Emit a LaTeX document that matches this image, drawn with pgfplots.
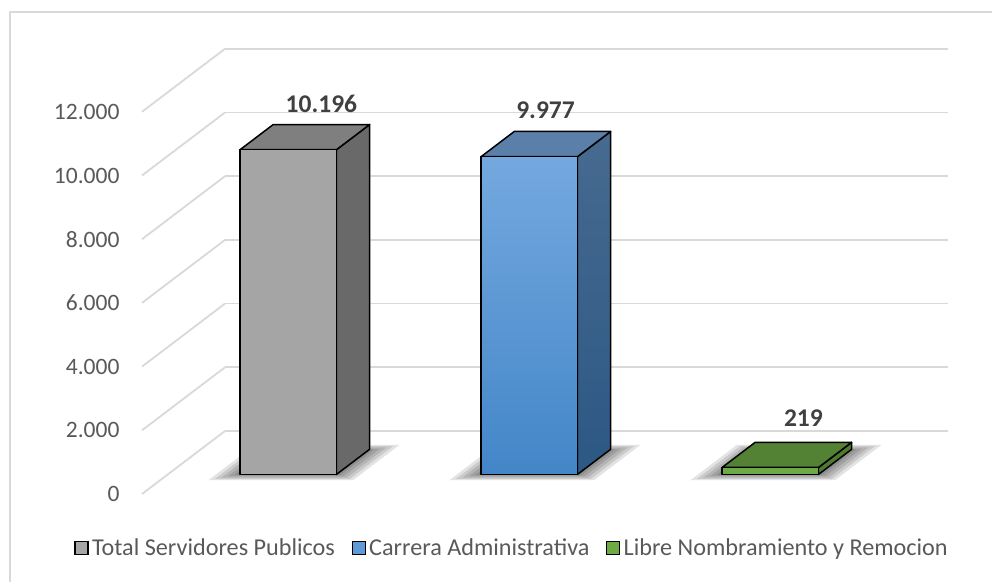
\documentclass[border=0pt]{standalone}
\usepackage{fontspec}
\setmainfont{Carlito}
\usepackage{pgfplots}
\pgfplotsset{compat=1.18}
\usetikzlibrary{calc}
\definecolor{txt}{HTML}{595959}
\definecolor{lbl}{HTML}{404040}
\definecolor{gridc}{HTML}{D9D9D9}
\definecolor{g1f}{HTML}{A5A5A5}
\definecolor{g1t}{HTML}{7F7F7F}
\definecolor{g1s}{HTML}{696969}
\definecolor{b1ft}{HTML}{74A8DF}
\definecolor{b1fb}{HTML}{4386C8}
\definecolor{b1t}{HTML}{5A7FA8}
\definecolor{b1st}{HTML}{476A90}
\definecolor{b1sb}{HTML}{2C5884}
\definecolor{v1f}{HTML}{6DAA45}
\definecolor{v1t}{HTML}{548235}
\definecolor{v1s}{HTML}{4E7A30}
\begin{document}
\begin{tikzpicture}
\begin{axis}[
  x={(241pt,0pt)}, y={(83pt,63pt)}, z={(0pt,0.03185pt)},
  xmin=0.5, xmax=3.5, ymin=0, ymax=1, zmin=0, zmax=12000,
  xtick=\empty, ytick=\empty,
  ztick={0,2000,4000,6000,8000,10000,12000},
  scaled z ticks=false,
  zmajorgrids,
  grid style={draw=gridc, line width=1.8pt},
  axis line style={draw=none},
  major tick length=0pt,
  clip=false,
  /pgf/number format/1000 sep={.},
  /pgf/number format/assume math mode=true,
  zticklabel style={font=\fontsize{23.5}{28}\selectfont, text=txt, anchor=east, xshift=-19pt},
  legend style={draw=none, fill=none, at={(0.46,-0.121)}, anchor=center,
    font=\fontsize{24.2}{29}\selectfont, text=txt,
    legend columns=3,
    nodes={inner xsep=3.5pt},
    /tikz/every even column/.append style={column sep=13pt}},
  legend image code/.code={\draw[#1, draw=black, line width=1.2pt] (0pt,-6.5pt) rectangle (13pt,6.5pt);},
  bars/.style={draw=black, line width=1.5pt, line join=round},
  shad/.style={fill=black, draw=none, opacity=0.11},
]
\coordinate (O) at (axis cs:0.5,0,0);
% legend images
\addlegendimage{fill=g1f}
\addlegendentry{Total Servidores Publicos}
\addlegendimage{fill=b1ft!60!b1fb}
\addlegendentry{Carrera Administrativa}
\addlegendimage{fill=v1f}
\addlegendentry{Libre Nombramiento y Remocion}
% ---------- Bar 1 : 10196
\addplot3[shad] coordinates {(0.70,0.22,0) (1.30,0.22,0) (1.30,0.78,0) (0.70,0.78,0)} -- cycle;
\addplot3[shad] coordinates {(0.72,0.24,0) (1.28,0.24,0) (1.28,0.76,0) (0.72,0.76,0)} -- cycle;
\addplot3[shad] coordinates {(0.74,0.26,0) (1.26,0.26,0) (1.26,0.74,0) (0.74,0.74,0)} -- cycle;
\addplot3[shad] coordinates {(0.76,0.28,0) (1.24,0.28,0) (1.24,0.72,0) (0.76,0.72,0)} -- cycle;
\addplot3[shad] coordinates {(0.78,0.30,0) (1.22,0.30,0) (1.22,0.71,0) (0.78,0.71,0)} -- cycle;
\addplot3[bars, fill=g1s] coordinates {(1.2,0.31,0) (1.2,0.71,0) (1.2,0.71,10196) (1.2,0.31,10196)} -- cycle;
\addplot3[bars, fill=g1t] coordinates {(0.8,0.31,10196) (1.2,0.31,10196) (1.2,0.71,10196) (0.8,0.71,10196)} -- cycle;
\addplot3[bars, fill=g1f] coordinates {(0.8,0.31,0) (1.2,0.31,0) (1.2,0.31,10196) (0.8,0.31,10196)} -- cycle;
% ---------- Bar 2 : 9977
\addplot3[shad] coordinates {(1.70,0.22,0) (2.30,0.22,0) (2.30,0.78,0) (1.70,0.78,0)} -- cycle;
\addplot3[shad] coordinates {(1.72,0.24,0) (2.28,0.24,0) (2.28,0.76,0) (1.72,0.76,0)} -- cycle;
\addplot3[shad] coordinates {(1.74,0.26,0) (2.26,0.26,0) (2.26,0.74,0) (1.74,0.74,0)} -- cycle;
\addplot3[shad] coordinates {(1.76,0.28,0) (2.24,0.28,0) (2.24,0.72,0) (1.76,0.72,0)} -- cycle;
\addplot3[shad] coordinates {(1.78,0.30,0) (2.22,0.30,0) (2.22,0.71,0) (1.78,0.71,0)} -- cycle;
\addplot3[bars, top color=b1st, bottom color=b1sb] coordinates {(2.2,0.31,0) (2.2,0.71,0) (2.2,0.71,9977) (2.2,0.31,9977)} -- cycle;
\addplot3[bars, fill=b1t] coordinates {(1.8,0.31,9977) (2.2,0.31,9977) (2.2,0.71,9977) (1.8,0.71,9977)} -- cycle;
\addplot3[bars, top color=b1ft, bottom color=b1fb] coordinates {(1.8,0.31,0) (2.2,0.31,0) (2.2,0.31,9977) (1.8,0.31,9977)} -- cycle;
% ---------- Bar 3 : 219
\addplot3[shad] coordinates {(2.70,0.22,0) (3.30,0.22,0) (3.30,0.78,0) (2.70,0.78,0)} -- cycle;
\addplot3[shad] coordinates {(2.72,0.24,0) (3.28,0.24,0) (3.28,0.76,0) (2.72,0.76,0)} -- cycle;
\addplot3[shad] coordinates {(2.74,0.26,0) (3.26,0.26,0) (3.26,0.74,0) (2.74,0.74,0)} -- cycle;
\addplot3[shad] coordinates {(2.76,0.28,0) (3.24,0.28,0) (3.24,0.72,0) (2.76,0.72,0)} -- cycle;
\addplot3[shad] coordinates {(2.78,0.30,0) (3.22,0.30,0) (3.22,0.71,0) (2.78,0.71,0)} -- cycle;
\addplot3[bars, fill=v1s] coordinates {(3.2,0.31,0) (3.2,0.71,0) (3.2,0.71,219) (3.2,0.31,219)} -- cycle;
\addplot3[bars, fill=v1t] coordinates {(2.8,0.31,219) (3.2,0.31,219) (3.2,0.71,219) (2.8,0.71,219)} -- cycle;
\addplot3[bars, fill=v1f] coordinates {(2.8,0.31,0) (3.2,0.31,0) (3.2,0.31,219) (2.8,0.31,219)} -- cycle;
% data labels
\node[font=\fontsize{25.5}{30}\selectfont\bfseries, text=lbl, yshift=21pt] at (axis cs:1,0.71,10196) {10.196};
\node[font=\fontsize{25.5}{30}\selectfont\bfseries, text=lbl, yshift=21pt] at (axis cs:1.93,0.71,9977) {9.977};
\node[font=\fontsize{25.5}{30}\selectfont\bfseries, text=lbl, yshift=24pt] at (axis cs:3,0.71,219) {219};
\end{axis}
\draw[gridc, line width=1.2pt] ($(O)+(-132pt,-120pt)$) |- ($(O)+(900pt,482pt)$);
\pgfresetboundingbox
\path[use as bounding box] ($(O)+(-142pt,-87pt)$) rectangle ($(O)+(850pt,494pt)$);
\end{tikzpicture}
\end{document}
